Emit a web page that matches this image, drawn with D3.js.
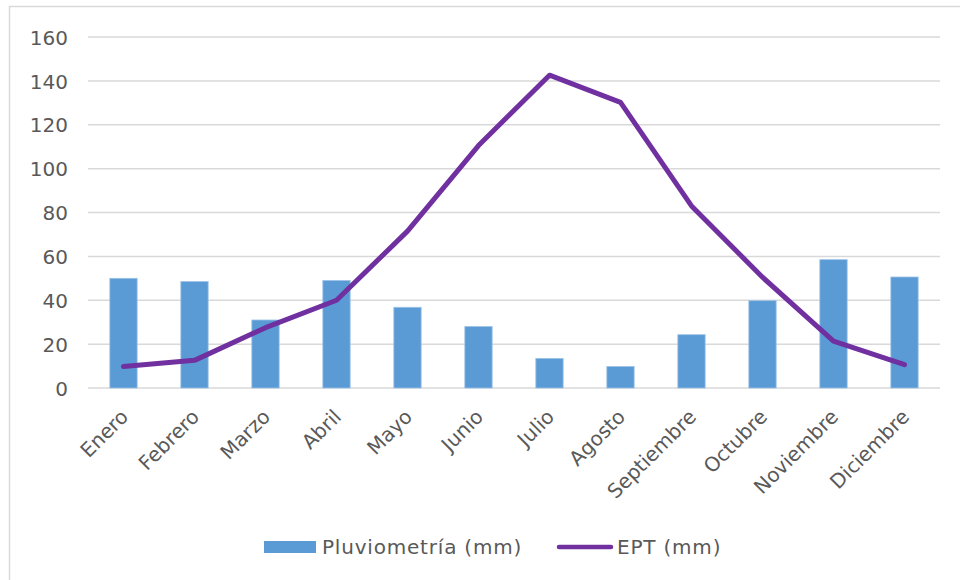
<!DOCTYPE html>
<html>
<head>
<meta charset="utf-8">
<script src="https://cdn.jsdelivr.net/npm/d3@7"></script>
<style>
  body { margin: 0; background: #fff; }
  text { font-family: "DejaVu Sans", Verdana, sans-serif; fill: #595959; }
</style>
</head>
<body>
<script>
var months = ["Enero","Febrero","Marzo","Abril","Mayo","Junio","Julio","Agosto","Septiembre","Octubre","Noviembre","Diciembre"];
var rain = [50, 48.5, 31, 49, 36.8, 28, 13.5, 9.8, 24.3, 39.8, 58.5, 50.6];
var ept = [9.8, 12.6, 27.5, 40, 71.5, 110.5, 142.6, 130.2, 83, 50.5, 21.4, 10.6];
var yTicks = [0, 20, 40, 60, 80, 100, 120, 140, 160];

var width = 960, height = 580;
var margin = { top: 37, right: 20, bottom: 192, left: 88 };

var svg = d3.select("body").append("svg")
    .attr("width", width)
    .attr("height", height);

// outer chart frame (runs off the right/bottom edge like the original)
svg.append("rect")
    .attr("x", 9.5).attr("y", 6.5)
    .attr("width", 980).attr("height", 600)
    .attr("fill", "#fff")
    .attr("stroke", "#d9d9d9")
    .attr("stroke-width", 1.5);

var x = d3.scaleBand()
    .domain(months)
    .range([margin.left, 940]);

var y = d3.scaleLinear()
    .domain([0, 160])
    .range([height - margin.bottom, margin.top]);

// gridlines
svg.append("g").attr("class", "grid")
  .selectAll("line")
  .data(yTicks)
  .enter().append("line")
    .attr("x1", margin.left).attr("x2", 940)
    .attr("y1", d => y(d)).attr("y2", d => y(d))
    .attr("stroke", "#d9d9d9")
    .attr("stroke-width", 1.5);

// y axis labels
var yAxis = svg.append("g")
    .attr("transform", `translate(${margin.left - 20},0)`)
    .call(d3.axisLeft(y).tickValues(yTicks).tickSize(0).tickPadding(0));
yAxis.select(".domain").remove();
yAxis.selectAll("text")
    .style("font-size", "20px")
    .style("font-family", "'DejaVu Sans', Verdana, sans-serif")
    .attr("fill", "#595959")
    .attr("dy", "0.36em");

// x axis labels, rotated
var xAxis = svg.append("g")
    .attr("transform", `translate(0,${y(0)})`)
    .call(d3.axisBottom(x).tickSize(0).tickPadding(0));
xAxis.select(".domain").remove();
xAxis.selectAll("text")
    .style("font-size", "20px")
    .style("font-family", "'DejaVu Sans', Verdana, sans-serif")
    .attr("fill", "#595959")
    .attr("text-anchor", "end")
    .attr("dy", null)
    .attr("y", 0)
    .attr("transform", "translate(6,30) rotate(-45)");

// bars
var bw = x.bandwidth() * 0.385;
svg.append("g").attr("class", "bars")
  .selectAll("rect")
  .data(rain)
  .enter().append("rect")
    .attr("x", (d, i) => x(months[i]) + x.bandwidth() / 2 - bw / 2)
    .attr("y", d => y(d))
    .attr("width", bw)
    .attr("height", d => y(0) - y(d))
    .attr("fill", "#5b9bd5")
    .attr("stroke", "#9dc3e6")
    .attr("stroke-width", 0.8);

// EPT line
var line = d3.line()
    .x((d, i) => x(months[i]) + x.bandwidth() / 2)
    .y(d => y(d));

svg.append("path")
    .datum(ept)
    .attr("d", line)
    .attr("fill", "none")
    .attr("stroke", "#7030a0")
    .attr("stroke-width", 5)
    .attr("stroke-linecap", "round")
    .attr("stroke-linejoin", "round");

// legend
var legend = svg.append("g").attr("class", "legend");
legend.append("rect")
    .attr("x", 264).attr("y", 541)
    .attr("width", 52).attr("height", 12)
    .attr("fill", "#5b9bd5");
legend.append("text")
    .attr("x", 322).attr("y", 554)
    .style("font-size", "20px")
    .style("letter-spacing", "0.8px")
    .text("Pluviometría (mm)");
legend.append("line")
    .attr("x1", 559).attr("x2", 611)
    .attr("y1", 547).attr("y2", 547)
    .attr("stroke", "#7030a0")
    .attr("stroke-width", 4.5)
    .attr("stroke-linecap", "round");
legend.append("text")
    .attr("x", 617).attr("y", 554)
    .style("font-size", "20px")
    .style("letter-spacing", "0.8px")
    .text("EPT (mm)");
</script>
</body>
</html>
